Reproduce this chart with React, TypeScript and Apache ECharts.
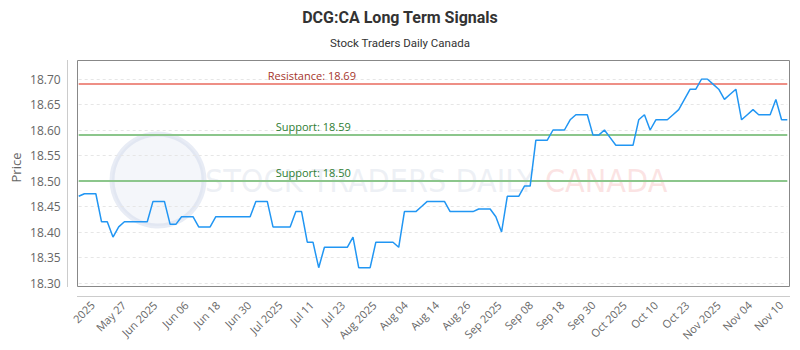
import React, { useEffect, useRef } from "react";
import * as echarts from "echarts";

const titleText = "DCG:CA Long Term Signals";
const subtitleText = "Stock Traders Daily Canada";

const prices = [
  18.47, 18.475, 18.475, 18.475, 18.42, 18.42, 18.39, 18.41, 18.42, 18.42,
  18.42, 18.42, 18.42, 18.46, 18.46, 18.46, 18.415, 18.415, 18.43, 18.43,
  18.43, 18.41, 18.41, 18.41, 18.43, 18.43, 18.43, 18.43, 18.43, 18.43,
  18.43, 18.46, 18.46, 18.46, 18.41, 18.41, 18.41, 18.41, 18.44, 18.44,
  18.38, 18.38, 18.33, 18.37, 18.37, 18.37, 18.37, 18.37, 18.39, 18.33,
  18.33, 18.33, 18.38, 18.38, 18.38, 18.38, 18.37, 18.44, 18.44, 18.44,
  18.45, 18.46, 18.46, 18.46, 18.46, 18.44, 18.44, 18.44, 18.44, 18.44,
  18.445, 18.445, 18.445, 18.43, 18.40, 18.47, 18.47, 18.47, 18.49, 18.49,
  18.58, 18.58, 18.58, 18.60, 18.60, 18.60, 18.62, 18.63, 18.63, 18.63,
  18.59, 18.59, 18.60, 18.585, 18.57, 18.57, 18.57, 18.57, 18.62, 18.63,
  18.60, 18.62, 18.62, 18.62, 18.63, 18.64, 18.66, 18.68, 18.68, 18.70,
  18.70, 18.69, 18.68, 18.66, 18.67, 18.68, 18.62, 18.63, 18.64, 18.63,
  18.63, 18.63, 18.66, 18.62, 18.62,
];

const dayIndex = prices.map((_, i) => String(i));

const tickLabels = [
  "2025", "May 27", "Jun 2025", "Jun 06", "Jun 18", "Jun 30", "Jul 2025",
  "Jul 11", "Jul 23", "Aug 2025", "Aug 04", "Aug 14", "Aug 26", "Sep 2025",
  "Sep 08", "Sep 18", "Sep 30", "Oct 2025", "Oct 10", "Oct 23", "Nov 2025",
  "Nov 04", "Nov 10",
];

const resistanceLevel = 18.69;
const supportLevels = [18.59, 18.5];

const yMin = 18.3;
const yMax = 18.7;
const yStep = 0.05;

export default function App() {
  const ref = useRef<HTMLDivElement>(null);

  useEffect(() => {
    if (!ref.current) return;
    const chart = echarts.init(ref.current, undefined, { renderer: "svg" });
    const font = "'Open Sans', sans-serif";

    const option: any = {
      animation: false,
      backgroundColor: "#ffffff",
      title: [
        {
          text: titleText,
          left: "center",
          top: 4,
          textStyle: { fontSize: 16, fontWeight: "bold", color: "#333", fontFamily: "Roboto, sans-serif" },
        },
        {
          text: subtitleText,
          left: "center",
          top: 32,
          textStyle: { fontSize: 11.5, fontWeight: "normal", color: "#333", fontFamily: "Roboto, sans-serif" },
        },
      ],
      grid: [
        { left: 78.7, right: 12.7, top: 79, bottom: 67, containLabel: false, outerBoundsMode: "none" },
        { left: 92.5, right: 19, top: 79, bottom: 67, containLabel: false, outerBoundsMode: "none" },
      ],
      xAxis: [
        {
          type: "category",
          gridIndex: 0,
          data: dayIndex,
          boundaryGap: false,
          axisLine: { show: false },
          axisTick: { show: false },
          axisLabel: { show: false },
          splitLine: { show: false },
        },
        {
          type: "category",
          gridIndex: 1,
          data: tickLabels,
          boundaryGap: false,
          axisLine: { show: false },
          axisTick: { show: false },
          splitLine: { show: false },
          axisLabel: {
            interval: 0,
            rotate: 45,
            margin: 20,
            color: "#666",
            fontSize: 11,
            fontFamily: font,
          },
        },
      ],
      yAxis: [
        {
          type: "value",
          gridIndex: 0,
          min: yMin,
          max: yMax,
          interval: yStep,
          axisLine: { show: false },
          axisTick: { show: false },
          axisLabel: {
            margin: 18,
            color: "#666",
            fontSize: 12,
            fontFamily: font,
            formatter: (v: number) => v.toFixed(2),
          },
          splitLine: { show: true, lineStyle: { color: "#e6e6e6", type: [3, 3], width: 1 } },
        },
        { type: "value", gridIndex: 1, show: false, splitLine: { show: false } },
      ],
      graphic: [
        {
          type: "circle",
          z: 0,
          silent: true,
          shape: { cx: 158, cy: 180, r: 46 },
          style: { fill: "rgba(220,226,240,0.3)", stroke: "rgba(205,213,232,0.45)", lineWidth: 5 },
        },
        {
          type: "text",
          z: 0,
          silent: true,
          x: 205,
          y: 181,
          style: {
            text: "STOCK TRADERS DAILY",
            fontSize: 32,
            fontFamily: "'DejaVu Sans Condensed', sans-serif",
            fill: "rgba(205,212,226,0.35)",
            verticalAlign: "middle",
            align: "left",
          },
        },
        {
          type: "text",
          z: 0,
          silent: true,
          x: 545,
          y: 181,
          style: {
            text: "CANADA",
            fontSize: 32,
            fontFamily: "'DejaVu Sans Condensed', sans-serif",
            fill: "rgba(245,175,175,0.35)",
            verticalAlign: "middle",
            align: "left",
          },
        },
        {
          type: "text",
          x: 15.5,
          y: 167.5,
          rotation: Math.PI / 2,
          style: {
            text: "Price",
            fontSize: 13,
            fontFamily: font,
            fill: "#666",
            align: "center",
            verticalAlign: "middle",
          },
        },
        {
          type: "rect",
          z: 10,
          silent: true,
          shape: { x: 77.5, y: 60.5, width: 712, height: 226 },
          style: { fill: "none", stroke: "#888", lineWidth: 1 },
        },
        {
          type: "line",
          silent: true,
          shape: { x1: 67.5, y1: 60, x2: 67.5, y2: 287 },
          style: { stroke: "#ccc", lineWidth: 1 },
        },
        {
          type: "line",
          silent: true,
          shape: { x1: 77, y1: 296.5, x2: 790, y2: 296.5 },
          style: { stroke: "#ccc", lineWidth: 1 },
        },
      ],
      series: [
        {
          type: "line",
          xAxisIndex: 0,
          yAxisIndex: 0,
          data: prices,
          showSymbol: false,
          symbol: "none",
          lineStyle: { color: "#2196f3", width: 1.5 },
          itemStyle: { color: "#2196f3" },
          z: 5,
          markLine: {
            silent: true,
            symbol: "none",
            animation: false,
            data: [
              {
                yAxis: resistanceLevel,
                lineStyle: { color: "#ee8f86", width: 2, type: "solid" },
                label: {
                  show: true,
                  position: "insideStartTop",
                  distance: [189, 3],
                  formatter: "Resistance: " + resistanceLevel.toFixed(2),
                  color: "#a5352b",
                  fontSize: 11,
                  fontFamily: font,
                },
              },
              ...supportLevels.map((lvl) => ({
                yAxis: lvl,
                lineStyle: { color: "#8cc68c", width: 2, type: "solid" },
                label: {
                  show: true,
                  position: "insideStartTop",
                  distance: [197, 3],
                  formatter: "Support: " + lvl.toFixed(2),
                  color: "#2e7d32",
                  fontSize: 11,
                  fontFamily: font,
                },
              })),
            ],
          },
        },
      ],
    };

    chart.setOption(option);
    return () => chart.dispose();
  }, []);

  return (
    <div
      ref={ref}
      style={{ position: "fixed", left: 0, top: 0, width: 800, height: 350 }}
    />
  );
}
